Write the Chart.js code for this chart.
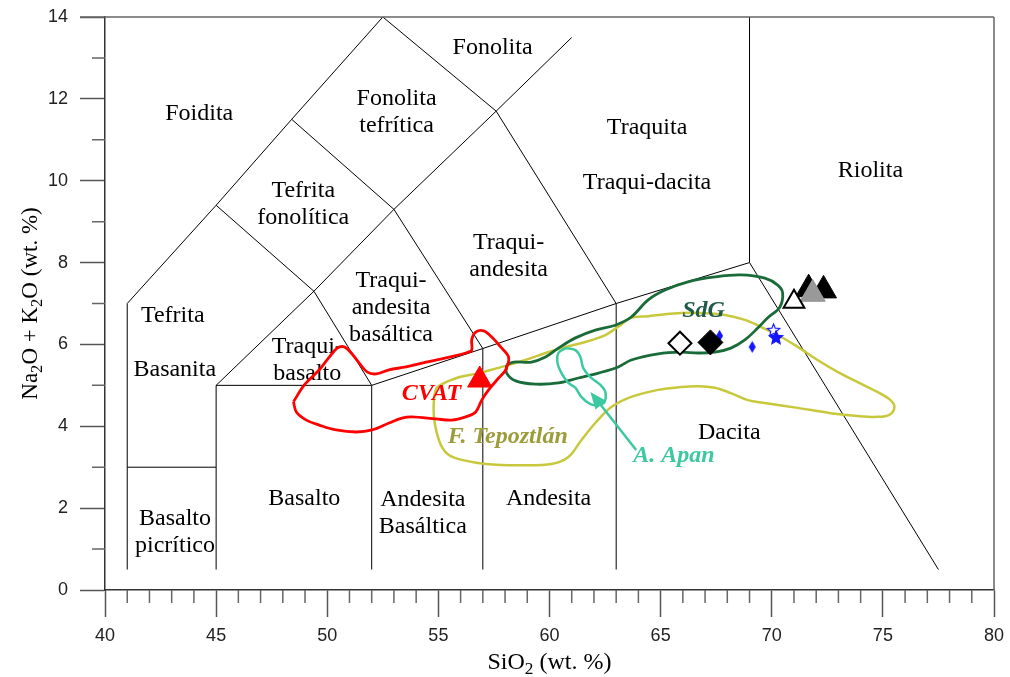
<!DOCTYPE html>
<html>
<head>
<meta charset="utf-8">
<script src="https://cdn.jsdelivr.net/npm/chart.js"></script>
<style>
  html, body { margin: 0; padding: 0; background: #fff; }
</style>
</head>
<body>
<canvas id="myChart" width="1010" height="677"></canvas>
<script>
// TAS diagram: SiO2 vs Na2O + K2O (wt. %)
const xRange = [40, 80];
const yRange = [0, 14];

// field boundaries (polylines)
const fieldLines = [
  [[41, 0.5], [41, 7], [45, 9.4], [48.4, 11.5], [52.5, 14]],
  [[41, 3], [45, 3]],
  [[45, 0.5], [45, 5], [49.4, 7.3], [53, 9.3], [57.6, 11.7], [61, 13.5]],
  [[45, 5], [52, 5]],
  [[45, 9.4], [49.4, 7.3]],
  [[48.4, 11.5], [53, 9.3]],
  [[52.5, 14], [57.6, 11.7], [63, 7]],
  [[53, 9.3], [57, 5.9]],
  [[49.4, 7.3], [52, 5], [57, 5.9], [63, 7], [69, 8], [69, 14]],
  [[52, 0.5], [52, 5]],
  [[57, 0.5], [57, 5.9]],
  [[63, 0.5], [63, 7]],
  [[69, 8], [77.5, 0.5]]
];

const fieldNames = ['Foidita', 'Fonolita', 'Fonolita\ntefrítica', 'Traquita', 'Traqui-dacita', 'Riolita',
  'Tefrita\nfonolítica', 'Traqui-\nandesita', 'Traqui-\nandesita\nbasáltica', 'Traqui-\nbasalto',
  'Tefrita', 'Basanita', 'Basalto\npicrítico', 'Basalto', 'Andesita\nBasáltica', 'Andesita', 'Dacita'];
const fieldX = [44.24, 57.44, 53.12, 64.39, 64.39, 74.44, 48.92, 58.16, 52.87, 49.1,
  43.05, 43.14, 43.15, 48.97, 54.3, 59.96, 68.09];
const fieldY = [11.64, 13.24, 11.68, 11.29, 9.94, 10.24, 9.42, 8.16, 6.89, 5.61,
  6.69, 5.38, 1.42, 2.22, 1.87, 2.22, 3.85];

// outlines of the compared suites
const cvatOutline = [[48.48, 4.60], [48.97, 5.01], [49.64, 5.38], [50.09, 5.69], [50.45, 5.91], [50.76, 5.94],
  [51.08, 5.79], [51.43, 5.55], [51.79, 5.33], [52.2, 5.28], [52.78, 5.38], [53.54, 5.45], [54.44, 5.57],
  [55.34, 5.67], [56.23, 5.79], [56.5, 5.86], [56.5, 6.11], [56.68, 6.30], [57.04, 6.33], [57.4, 6.18],
  [57.8, 5.94], [58.16, 5.69], [58.03, 5.38], [57.71, 5.18], [57.26, 4.89], [56.95, 4.64], [56.68, 4.35],
  [56.23, 4.23], [55.6, 4.15], [54.89, 4.18], [53.81, 4.23], [53.36, 4.20], [52.78, 4.08], [52.02, 3.91],
  [51.3, 3.86], [50.4, 3.91], [49.64, 4.03], [49.06, 4.15], [48.61, 4.35]];
const tepoztlanOutline = [[55.34, 5.08], [55.92, 5.20], [56.68, 5.28], [57.40, 5.38], [58.16, 5.50], [58.92, 5.62],
  [59.82, 5.79], [60.72, 5.94], [61.61, 6.06], [62.51, 6.23], [63.09, 6.43], [63.68, 6.65], [64.44, 6.69],
  [65.2, 6.74], [65.92, 6.77], [66.68, 6.77], [67.89, 6.72], [68.79, 6.60], [69.51, 6.43], [70.27, 6.23],
  [71.17, 5.94], [72.06, 5.62], [72.96, 5.33], [73.86, 5.08], [74.75, 4.84], [75.34, 4.64], [75.52, 4.47],
  [75.29, 4.28], [74.75, 4.23], [73.86, 4.25], [72.65, 4.32], [71.17, 4.45], [69.69, 4.57], [68.92, 4.64],
  [68.16, 4.81], [67.44, 4.94], [66.68, 4.98], [65.92, 4.96], [64.89, 4.89], [63.68, 4.72], [62.78, 4.47],
  [62.06, 4.08], [61.43, 3.66], [60.85, 3.25], [60.09, 3.08], [58.61, 3.05], [57.13, 3.08], [56.05, 3.18],
  [55.47, 3.30], [55.16, 3.49], [54.93, 3.84], [54.8, 4.23], [54.8, 4.64], [54.93, 4.94]];
const sdgOutline = [[58.07, 5.50], [58.39, 5.57], [59.19, 5.57], [59.82, 5.69], [60.40, 5.91], [61.17, 6.16],
  [62.06, 6.35], [62.96, 6.47], [63.68, 6.67], [64.44, 7.09], [65.20, 7.33], [66.23, 7.53], [67.44, 7.65],
  [68.61, 7.70], [69.69, 7.62], [70.27, 7.45], [70.49, 7.26], [70.36, 6.91], [69.82, 6.65], [69.37, 6.40],
  [68.79, 6.11], [68.16, 5.91], [67.44, 5.81], [66.68, 5.79], [65.92, 5.81], [64.89, 5.77], [63.68, 5.62],
  [63.09, 5.45], [62.20, 5.30], [61.30, 5.18], [60.40, 5.06], [59.37, 5.03], [58.48, 5.11], [58.07, 5.30]];
const apanOutline = [[60.72, 5.91], [61.17, 5.86], [61.39, 5.69], [61.52, 5.42], [61.84, 5.20], [62.29, 5.01],
  [62.51, 4.84], [62.47, 4.59], [62.20, 4.52], [61.84, 4.54], [61.43, 4.72], [61.17, 4.94], [60.85, 5.06],
  [60.54, 5.30], [60.36, 5.55], [60.40, 5.79]];
const apanArrow = [[63.9, 3.42], [61.84, 4.84]];

const groupNames = ['CVAT', 'SdG', 'F. Tepoztlán', 'A. Apan'];
const groupX = [54.69, 66.93, 58.12, 65.6];
const groupY = [4.79, 6.82, 3.74, 3.27];
const groupColors = ['#ff0000', '#1f5a4a', '#9c9c3a', '#3cc8a0'];

// samples
const cvatSample = [[56.86, 5.13]];
const blackTriangles = [[71.66, 7.35], [72.33, 7.32]];
const grayTriangle = [[71.84, 7.23]];
const openTriangle = [[71.0, 7.04]];
const openDiamond = [[65.87, 6.03]];
const blackDiamond = [[67.24, 6.05]];
const blueDiamonds = [[67.65, 6.21], [69.12, 5.94]];
const openStar = [[70.08, 6.34]];
const blueStar = [[70.19, 6.16]];

const serif = "'Liberation Serif', 'Times New Roman', serif";
const sans = "'Liberation Sans', Arial, sans-serif";

function toXY(pts) {
  return pts.map(p => ({ x: p[0], y: p[1] }));
}

function makeDiamond(w, h, color) {
  const c = document.createElement('canvas');
  c.width = w + 2;
  c.height = h + 2;
  const g = c.getContext('2d');
  g.fillStyle = color;
  g.beginPath();
  g.moveTo(c.width / 2, 1);
  g.lineTo(c.width - 1, c.height / 2);
  g.lineTo(c.width / 2, c.height - 1);
  g.lineTo(1, c.height / 2);
  g.closePath();
  g.fill();
  return c;
}

function makeStar(r, fill, stroke) {
  const size = Math.ceil(r * 2 + 4);
  const c = document.createElement('canvas');
  c.width = size;
  c.height = size;
  const g = c.getContext('2d');
  g.beginPath();
  for (let i = 0; i < 10; i++) {
    const rr = i % 2 === 0 ? r : r * 0.45;
    const a = -Math.PI / 2 + i * Math.PI / 5;
    const px = size / 2 + Math.cos(a) * rr;
    const py = size / 2 + Math.sin(a) * rr;
    if (i === 0) g.moveTo(px, py); else g.lineTo(px, py);
  }
  g.closePath();
  g.fillStyle = fill;
  g.fill();
  g.strokeStyle = stroke;
  g.lineWidth = 1.2;
  g.stroke();
  return c;
}

function marker(pts, style, radius, bg, border, bw) {
  return {
    data: toXY(pts), showLine: false, pointStyle: style,
    pointRadius: radius, pointHoverRadius: radius,
    pointBackgroundColor: bg, pointBorderColor: border, pointBorderWidth: bw
  };
}

function outline(pts, color, width) {
  return {
    data: toXY(pts.concat([pts[0]])), showLine: true, fill: false,
    borderColor: color, borderWidth: width, pointRadius: 0, tension: 0.35
  };
}

const datasets = [
  marker(openTriangle, 'triangle', 12, '#ffffff', '#000000', 2),
  marker(grayTriangle, 'triangle', 14.5, '#999999', '#999999', 1),
  marker(blackTriangles, 'triangle', 15, '#000000', '#000000', 1),
  marker(cvatSample, 'triangle', 14, '#ff0000', '#ff0000', 1),
  marker(openDiamond, 'rectRot', 11.5, '#ffffff', '#000000', 2),
  marker(blackDiamond, 'rectRot', 12.5, '#000000', '#000000', 1),
  marker(blueDiamonds, makeDiamond(7, 12, '#1414ff'), 7, '#1414ff', '#1414ff', 0),
  marker(blueStar, makeStar(7, '#1414ff', '#1414ff'), 7, '#1414ff', '#1414ff', 0),
  marker(openStar, makeStar(6.5, '#ffffff', '#1414ff'), 7, '#ffffff', '#1414ff', 0),
  outline(apanOutline, '#3cc8a0', 2.5),
  outline(cvatOutline, '#ff0000', 2.8),
  outline(sdgOutline, '#1a6b3a', 2.8),
  outline(tepoztlanOutline, '#c8c83c', 2.5)
];
fieldLines.forEach(function (seg) {
  datasets.push({
    data: toXY(seg), showLine: true, fill: false, borderColor: '#000000',
    borderWidth: 1, pointRadius: 0, tension: 0
  });
});

function drawRich(ctx, parts, size, x, y) {
  let w = 0;
  parts.forEach(function (p) {
    ctx.font = (p.sub ? size * 0.72 : size) + 'px ' + serif;
    p.w = ctx.measureText(p.t).width;
    w += p.w;
  });
  let cx = x - w / 2;
  parts.forEach(function (p) {
    ctx.font = (p.sub ? size * 0.72 : size) + 'px ' + serif;
    ctx.fillText(p.t, cx, p.sub ? y + size * 0.22 : y);
    cx += p.w;
  });
}

const decor = {
  id: 'decor',
  beforeDatasetsDraw(chart) {
    const ctx = chart.ctx;
    const xs = chart.scales.x, ys = chart.scales.y;
    ctx.save();
    ctx.fillStyle = '#000';
    ctx.font = '24px ' + serif;
    ctx.textAlign = 'center';
    ctx.textBaseline = 'middle';
    fieldNames.forEach(function (name, i) {
      const lines = name.split('\n');
      const px = xs.getPixelForValue(fieldX[i]);
      const py = ys.getPixelForValue(fieldY[i]);
      lines.forEach(function (ln, j) {
        ctx.fillText(ln, px, py + (j - (lines.length - 1) / 2) * 27);
      });
    });
    ctx.restore();
  },
  afterDatasetsDraw(chart) {
    const ctx = chart.ctx;
    const xs = chart.scales.x, ys = chart.scales.y;
    const a = chart.chartArea;
    ctx.save();
    // arrow to A. Apan
    const x0 = xs.getPixelForValue(apanArrow[0][0]), y0 = ys.getPixelForValue(apanArrow[0][1]);
    const x1 = xs.getPixelForValue(apanArrow[1][0]), y1 = ys.getPixelForValue(apanArrow[1][1]);
    const ang = Math.atan2(y1 - y0, x1 - x0);
    const hl = 17, hw = 7;
    ctx.strokeStyle = '#3cc8a0';
    ctx.fillStyle = '#3cc8a0';
    ctx.lineWidth = 2.5;
    ctx.beginPath();
    ctx.moveTo(x0, y0);
    ctx.lineTo(x1 - Math.cos(ang) * hl * 0.8, y1 - Math.sin(ang) * hl * 0.8);
    ctx.stroke();
    ctx.beginPath();
    ctx.moveTo(x1, y1);
    ctx.lineTo(x1 - Math.cos(ang) * hl - Math.sin(ang) * hw, y1 - Math.sin(ang) * hl + Math.cos(ang) * hw);
    ctx.lineTo(x1 - Math.cos(ang) * hl + Math.sin(ang) * hw, y1 - Math.sin(ang) * hl - Math.cos(ang) * hw);
    ctx.closePath();
    ctx.fill();

    // group labels
    ctx.font = 'italic bold 24px ' + serif;
    ctx.textAlign = 'center';
    ctx.textBaseline = 'middle';
    groupNames.forEach(function (name, i) {
      ctx.fillStyle = groupColors[i];
      ctx.fillText(name, xs.getPixelForValue(groupX[i]), ys.getPixelForValue(groupY[i]));
    });

    // frame and minor ticks
    ctx.strokeStyle = '#666';
    ctx.lineWidth = 1.5;
    ctx.beginPath();
    ctx.moveTo(a.left - 25, a.top);
    ctx.lineTo(a.right, a.top);
    ctx.moveTo(a.right, a.top);
    ctx.lineTo(a.right, a.bottom);
    for (let v = xRange[0]; v <= xRange[1]; v++) {
      if (v % 5 === 0) continue;
      const px = xs.getPixelForValue(v);
      ctx.moveTo(px, a.bottom);
      ctx.lineTo(px, a.bottom + 13);
    }
    for (let v = yRange[0]; v <= yRange[1]; v++) {
      if (v % 2 === 0) continue;
      const py = ys.getPixelForValue(v);
      ctx.moveTo(a.left - 13, py);
      ctx.lineTo(a.left, py);
    }
    ctx.stroke();

    // axis titles
    ctx.fillStyle = '#000';
    ctx.textAlign = 'left';
    ctx.textBaseline = 'alphabetic';
    drawRich(ctx, [{ t: 'SiO' }, { t: '2', sub: true }, { t: ' (wt. %)' }], 24, (a.left + a.right) / 2, 669);
    ctx.translate(37, (a.top + a.bottom) / 2);
    ctx.rotate(-Math.PI / 2);
    drawRich(ctx, [{ t: 'Na' }, { t: '2', sub: true }, { t: 'O + K' }, { t: '2', sub: true }, { t: 'O (wt. %)' }], 23, 0, 0);
    ctx.restore();
  }
};

const ctx = document.getElementById('myChart').getContext('2d');
const myChart = new Chart(ctx, {
  type: 'scatter',
  data: { datasets: datasets },
  options: {
    responsive: false,
    animation: false,
    events: [],
    layout: { padding: { top: 17, right: 13, left: 0, bottom: 0 } },
    plugins: { legend: { display: false }, tooltip: { enabled: false } },
    scales: {
      x: {
        type: 'linear', min: xRange[0], max: xRange[1],
        afterFit: function (s) { s.height = 87; s.paddingLeft = 0; s.paddingRight = 0; },
        ticks: { stepSize: 5, autoSkip: false, maxRotation: 0, padding: 8, color: '#222',
          font: { family: sans, size: 18 } },
        grid: { drawOnChartArea: false, tickLength: 27, tickColor: '#555', tickWidth: 1.5 },
        border: { color: '#333', width: 1.5 }
      },
      y: {
        type: 'linear', min: yRange[0], max: yRange[1],
        afterFit: function (s) { s.width = 105; s.paddingTop = 0; s.paddingBottom = 0; },
        ticks: { stepSize: 2, autoSkip: false, padding: 12, color: '#222',
          font: { family: sans, size: 18 } },
        grid: { drawOnChartArea: false, tickLength: 25, tickColor: '#555', tickWidth: 1.5 },
        border: { color: '#333', width: 1.5 }
      }
    }
  },
  plugins: [decor]
});
</script>
</body>
</html>
